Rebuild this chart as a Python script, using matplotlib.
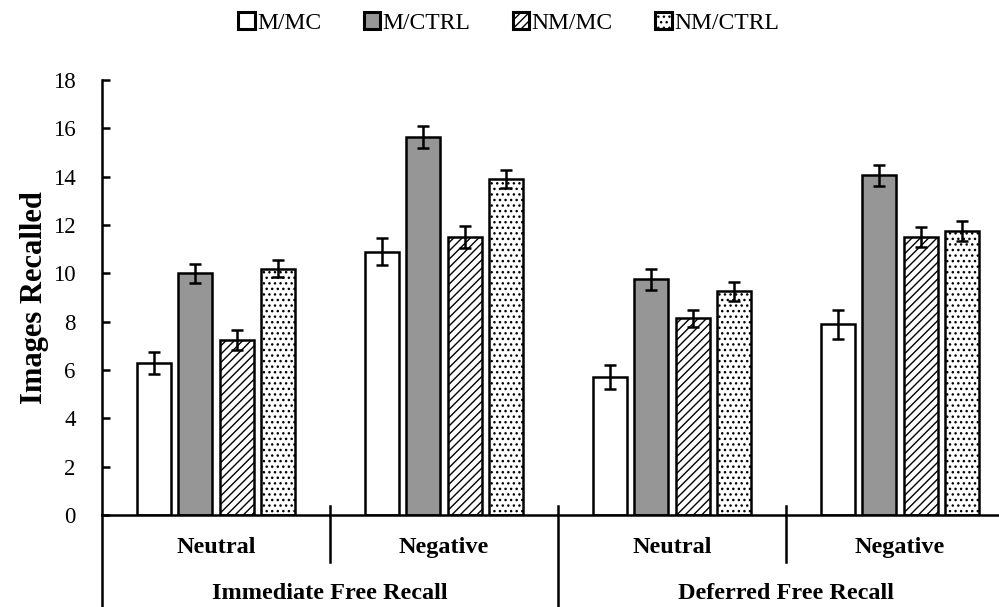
"""Images recalled by condition - grouped bar chart"""
import numpy as np
import matplotlib.pyplot as plt

plt.rcParams['font.family'] = ['Liberation Serif', 'DejaVu Serif']
plt.rcParams['hatch.linewidth'] = 1.0

# data
conditions = ['Neutral', 'Negative', 'Neutral', 'Negative']
recall_types = ['Immediate Free Recall', 'Deferred Free Recall']
series = ['M/MC', 'M/CTRL', 'NM/MC', 'NM/CTRL']
m_mc = [6.3, 10.9, 5.7, 7.9]
m_ctrl = [10.0, 15.65, 9.75, 14.05]
nm_mc = [7.25, 11.5, 8.15, 11.5]
nm_ctrl = [10.2, 13.9, 9.25, 11.75]
m_mc_err = [0.45, 0.55, 0.5, 0.6]
m_ctrl_err = [0.4, 0.45, 0.43, 0.42]
nm_mc_err = [0.42, 0.45, 0.35, 0.4]
nm_ctrl_err = [0.37, 0.38, 0.4, 0.4]

values = [m_mc, m_ctrl, nm_mc, nm_ctrl]
errors = [m_mc_err, m_ctrl_err, nm_mc_err, nm_ctrl_err]
colors = ['white', '#969696', 'white', 'white']
hatches = ['', '', '////', '...']

fig = plt.figure(figsize=(9.99, 6.07), dpi=100)
axes = fig.add_axes([102 / 999, 92 / 607, 912 / 999, 435 / 607])

centers = np.arange(len(conditions)) + 0.5
offsets = [-0.272, -0.09, 0.09, 0.272]
for i in range(4):
    axes.bar(centers + offsets[i], values[i], width=0.149, color=colors[i],
             edgecolor='black', linewidth=1.8, hatch=hatches[i], label=series[i],
             zorder=2)
    axes.errorbar(centers + offsets[i], values[i], yerr=errors[i], fmt='none',
                  ecolor='black', elinewidth=1.8, capsize=4.5, capthick=1.8,
                  zorder=3)

axes.set_xlim(0, 4)
axes.set_ylim(0, 18)
axes.set_yticks(np.arange(0, 19, 2))
axes.tick_params(axis='y', direction='in', length=6, width=1.8, labelsize=16.5, pad=19)
axes.set_xticks([])
for side in ['top', 'right']:
    axes.spines[side].set_visible(False)
axes.spines['bottom'].set_linewidth(1.8)
axes.spines['left'].set_linewidth(1.8)
axes.spines['left'].set_bounds(0, 18)

trans = axes.get_xaxis_transform()
# left axis continues down through label area
axes.plot([0, 0], [0, -0.25], color='black', linewidth=1.8, transform=trans, clip_on=False)
# divider ticks
axes.plot([1, 1], [0.02, -0.107], color='black', linewidth=1.8, transform=trans, clip_on=False)
axes.plot([3, 3], [0.02, -0.107], color='black', linewidth=1.8, transform=trans, clip_on=False)
axes.plot([2, 2], [0.02, -0.25], color='black', linewidth=1.8, transform=trans, clip_on=False)

for c, name in zip(centers, conditions):
    axes.text(c, -0.075, name, transform=trans, ha='center', va='center',
              fontsize=17.5, fontweight='bold')
for k, name in enumerate(recall_types):
    axes.text(2 * k + 1, -0.18, name, transform=trans, ha='center', va='center',
              fontsize=17.5, fontweight='bold')

axes.set_ylabel('Images Recalled', fontsize=22, fontweight='bold', labelpad=3)

leg = axes.legend(loc='upper center', bbox_to_anchor=(0.5 * 999 / 912 - 102 / 912 + 0.01, 1.205),
                  ncol=4, frameon=False, fontsize=17, handlelength=0.7, handleheight=0.7,
                  handletextpad=0.1, columnspacing=1.8)
for patch in leg.get_patches():
    patch.set_linewidth(2.2)

fig.savefig('out.png', dpi=100)
